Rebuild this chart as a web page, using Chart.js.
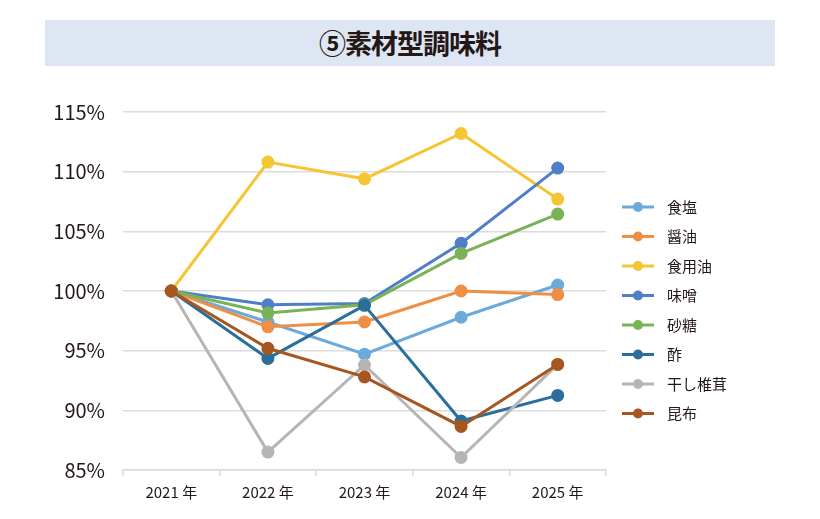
<!DOCTYPE html>
<html lang="ja">
<head>
  <meta charset="UTF-8">
  <title>⑤素材型調味料</title>
  <script src="https://cdn.jsdelivr.net/npm/chart.js"></script>
  <style>
    body {
      margin: 0;
      background: #fff;
      font-family: "Noto Sans CJK JP", sans-serif;
    }
    .wrap {
      position: relative;
      width: 820px;
      height: 519px;
    }
    .banner {
      position: absolute;
      left: 45px;
      top: 20px;
      width: 730px;
      height: 46px;
      background: #dfe6f3;
      color: #231815;
      font-size: 27px;
      font-weight: bold;
      line-height: 46px;
      text-align: center;
      letter-spacing: -1px;
    }
    canvas {
      position: absolute;
      left: 0;
      top: 0;
    }
  </style>
</head>
<body>

<div class="wrap">
  <div class="banner">⑤素材型調味料</div>
  <canvas id="chart" width="820" height="519"></canvas>
</div>

<script>
  const years = ['2021 年', '2022 年', '2023 年', '2024 年', '2025 年'];
  const yTicks = [85, 90, 95, 100, 105, 110, 115];

  const salt     = [100, 97.4, 94.7, 97.8, 100.5];
  const soy      = [100, 97.0, 97.4, 100.0, 99.7];
  const oil      = [100, 110.8, 109.4, 113.2, 107.7];
  const miso     = [100, 98.85, 98.95, 104.0, 110.3];
  const sugar    = [100, 98.15, 98.85, 103.15, 106.45];
  const vinegar  = [100, 94.35, 98.8, 89.1, 91.25];
  const shiitake = [100, 86.5, 93.8, 86.05, 93.85];
  const kombu    = [100, 95.2, 92.8, 88.65, 93.85];

  const names = ['食塩', '醤油', '食用油', '味噌', '砂糖', '酢', '干し椎茸', '昆布'];
  const colors = ['#6aaadc', '#ef8f45', '#f5c533', '#4f7fc8', '#79b356', '#2a6f9c', '#b5b5b5', '#a8561f'];
  const series = [salt, soy, oil, miso, sugar, vinegar, shiitake, kombu];

  // legend drawn by hand: short line with a dot in the middle
  const sideLegend = {
    id: 'sideLegend',
    afterDraw(chart) {
      const c = chart.ctx;
      c.save();
      chart.data.datasets.forEach((ds, i) => {
        const y = 207 + i * 29.5;
        c.strokeStyle = ds.borderColor;
        c.lineWidth = 3;
        c.beginPath();
        c.moveTo(622, y);
        c.lineTo(654, y);
        c.stroke();
        c.fillStyle = ds.borderColor;
        c.beginPath();
        c.arc(638, y, 5, 0, Math.PI * 2);
        c.fill();
        c.fillStyle = '#231815';
        c.font = '15px "Noto Sans CJK JP"';
        c.textBaseline = 'middle';
        c.fillText(ds.label, 667, y);
      });
      c.restore();
    }
  };

  new Chart(document.getElementById('chart'), {
    type: 'line',
    data: {
      labels: years,
      datasets: series.map((d, i) => ({
        label: names[i],
        data: d,
        order: series.length - i, // later series on top, like the original
        borderColor: colors[i],
        backgroundColor: colors[i],
        borderWidth: 3,
        pointRadius: 5,
        pointHoverRadius: 5,
        tension: 0
      }))
    },
    options: {
      responsive: false,
      animation: false,
      layout: { padding: { left: 0, right: 214, top: 112, bottom: 0 } },
      plugins: {
        legend: { display: false },
        tooltip: { enabled: false }
      },
      scales: {
        x: {
          offset: true,
          afterFit: s => { s.height = 49; },
          grid: {
            offset: true,
            drawOnChartArea: false,
            drawTicks: true,
            tickLength: 6,
            color: '#d9d9d9',
            lineWidth: 1.5
          },
          border: { color: '#d9d9d9', width: 1.5 },
          ticks: {
            color: '#231815',
            font: { size: 15, family: '"Noto Sans CJK JP"' },
            padding: 7
          }
        },
        y: {
          min: 85,
          max: 115,
          afterFit: s => { s.width = 123; },
          afterBuildTicks: s => { s.ticks = yTicks.map(v => ({ value: v })); },
          grid: { drawTicks: false, color: '#dcdcdc', lineWidth: 1.5 },
          border: { display: false },
          ticks: {
            color: '#231815',
            font: { size: 20, family: '"Noto Sans CJK JP"' },
            padding: 18,
            callback: v => v + '%'
          }
        }
      }
    },
    plugins: [sideLegend]
  });
</script>

</body>
</html>
